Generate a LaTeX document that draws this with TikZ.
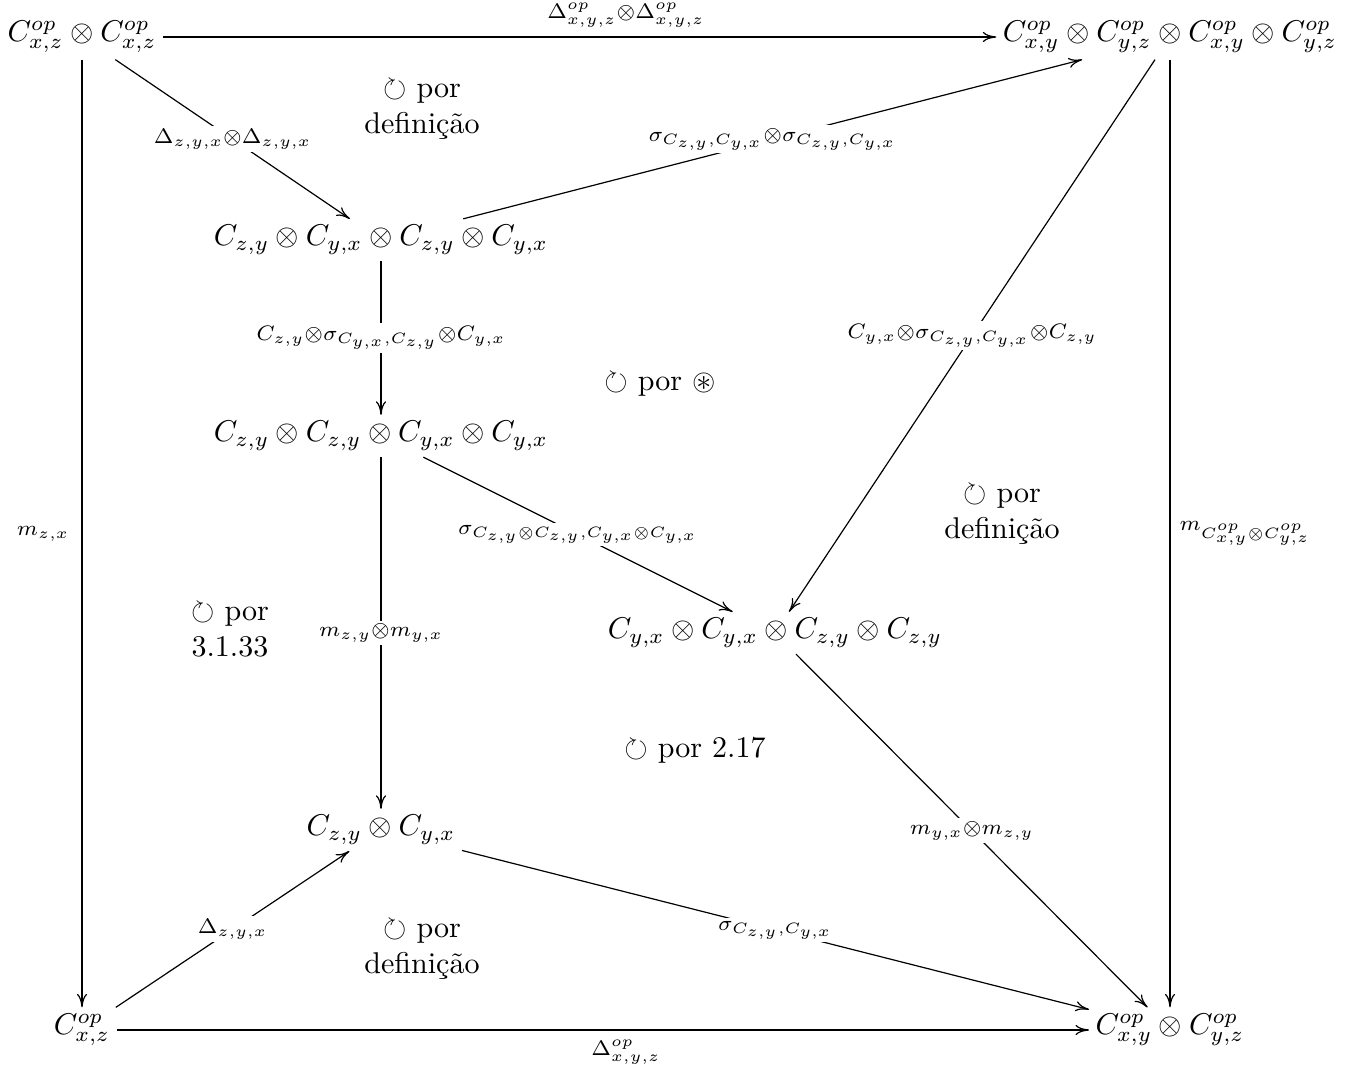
\documentclass[tikz,border=0pt]{standalone}
\usepackage{amsmath,amssymb}
\usetikzlibrary{arrows.meta}
\begin{document}
\begin{tikzpicture}[x=0.333pt,y=-0.333pt,
  obj/.style={inner sep=2pt},
  mor/.style={-{Computer Modern Rightarrow[length=4.5pt,width=3.4pt]},line width=0.4pt},
  lab/.style={midway,fill=white,inner sep=1pt},
  side/.style={inner sep=1pt},
  cell/.style={align=center,inner sep=0pt}]
\useasboundingbox (0,0) rectangle (1365,1070);
% objects
\node[obj] (A) at (82,37)   {$C^{op}_{x,z}\otimes C^{op}_{x,z}$};
\node[obj] (B) at (1170,37) {$C^{op}_{x,y}\otimes C^{op}_{y,z}\otimes C^{op}_{x,y}\otimes C^{op}_{y,z}$};
\node[obj] (C) at (381,240) {$C_{z,y}\otimes C_{y,x}\otimes C_{z,y}\otimes C_{y,x}$};
\node[obj] (D) at (381,436) {$C_{z,y}\otimes C_{z,y}\otimes C_{y,x}\otimes C_{y,x}$};
\node[obj] (E) at (775,633) {$C_{y,x}\otimes C_{y,x}\otimes C_{z,y}\otimes C_{z,y}$};
\node[obj] (F) at (381,830) {$C_{z,y}\otimes C_{y,x}$};
\node[obj] (G) at (82,1030) {$C^{op}_{x,z}$};
\node[obj] (H) at (1170,1030) {$C^{op}_{x,y}\otimes C^{op}_{y,z}$};
% morphisms
\draw[mor] (A) -- (B);
\path (A.center) -- node[side,above=2pt]{$\scriptstyle\Delta^{op}_{x,y,z}\otimes\Delta^{op}_{x,y,z}$} (B.center);
\draw[mor] (A) -- node[lab]{$\scriptstyle\Delta_{z,y,x}\otimes\Delta_{z,y,x}$} (C);
\draw[mor] (C) -- node[lab]{$\scriptstyle\sigma_{C_{z,y},C_{y,x}}\otimes\sigma_{C_{z,y},C_{y,x}}$} (B);
\draw[mor] (C) -- node[lab]{$\scriptstyle C_{z,y}\otimes\sigma_{C_{y,x},C_{z,y}}\otimes C_{y,x}$} (D);
\draw[mor] (B) -- node[lab]{$\scriptstyle C_{y,x}\otimes\sigma_{C_{z,y},C_{y,x}}\otimes C_{z,y}$} (E);
\draw[mor] (B) -- node[side,right=2pt]{$\scriptstyle m_{C^{op}_{x,y}\otimes C^{op}_{y,z}}$} (H);
\draw[mor] (A) -- node[side,left=3pt]{$\scriptstyle m_{z,x}$} (G);
\draw[mor] (D) -- node[lab]{$\scriptstyle\sigma_{C_{z,y}\otimes C_{z,y},C_{y,x}\otimes C_{y,x}}$} (E);
\draw[mor] (D) -- node[lab]{$\scriptstyle m_{z,y}\otimes m_{y,x}$} (F);
\draw[mor] (E) -- node[lab]{$\scriptstyle m_{y,x}\otimes m_{z,y}$} (H);
\draw[mor] (F) -- node[lab]{$\scriptstyle\sigma_{C_{z,y},C_{y,x}}$} (H);
\draw[mor] (G) -- node[lab]{$\scriptstyle\Delta_{z,y,x}$} (F);
\draw[mor] (G) -- (H);
\path (G.center) -- node[side,below=2pt]{$\scriptstyle\Delta^{op}_{x,y,z}$} (H.center);
% commutativity remarks
\node[cell] (c1) at (422,110) {$\circlearrowright$ por\\definição};
\node[cell] (c2) at (660,385) {$\circlearrowright$ por $\circledast$};
\node[cell] (c3) at (1002,515) {$\circlearrowright$ por\\definição};
\node[cell] (c4) at (230,630) {$\circlearrowright$ por\\3.1.33};
\node[cell] (c5) at (695,750) {$\circlearrowright$ por 2.17};
\node[cell] (c6) at (422,950) {$\circlearrowright$ por\\definição};
\end{tikzpicture}
\end{document}
